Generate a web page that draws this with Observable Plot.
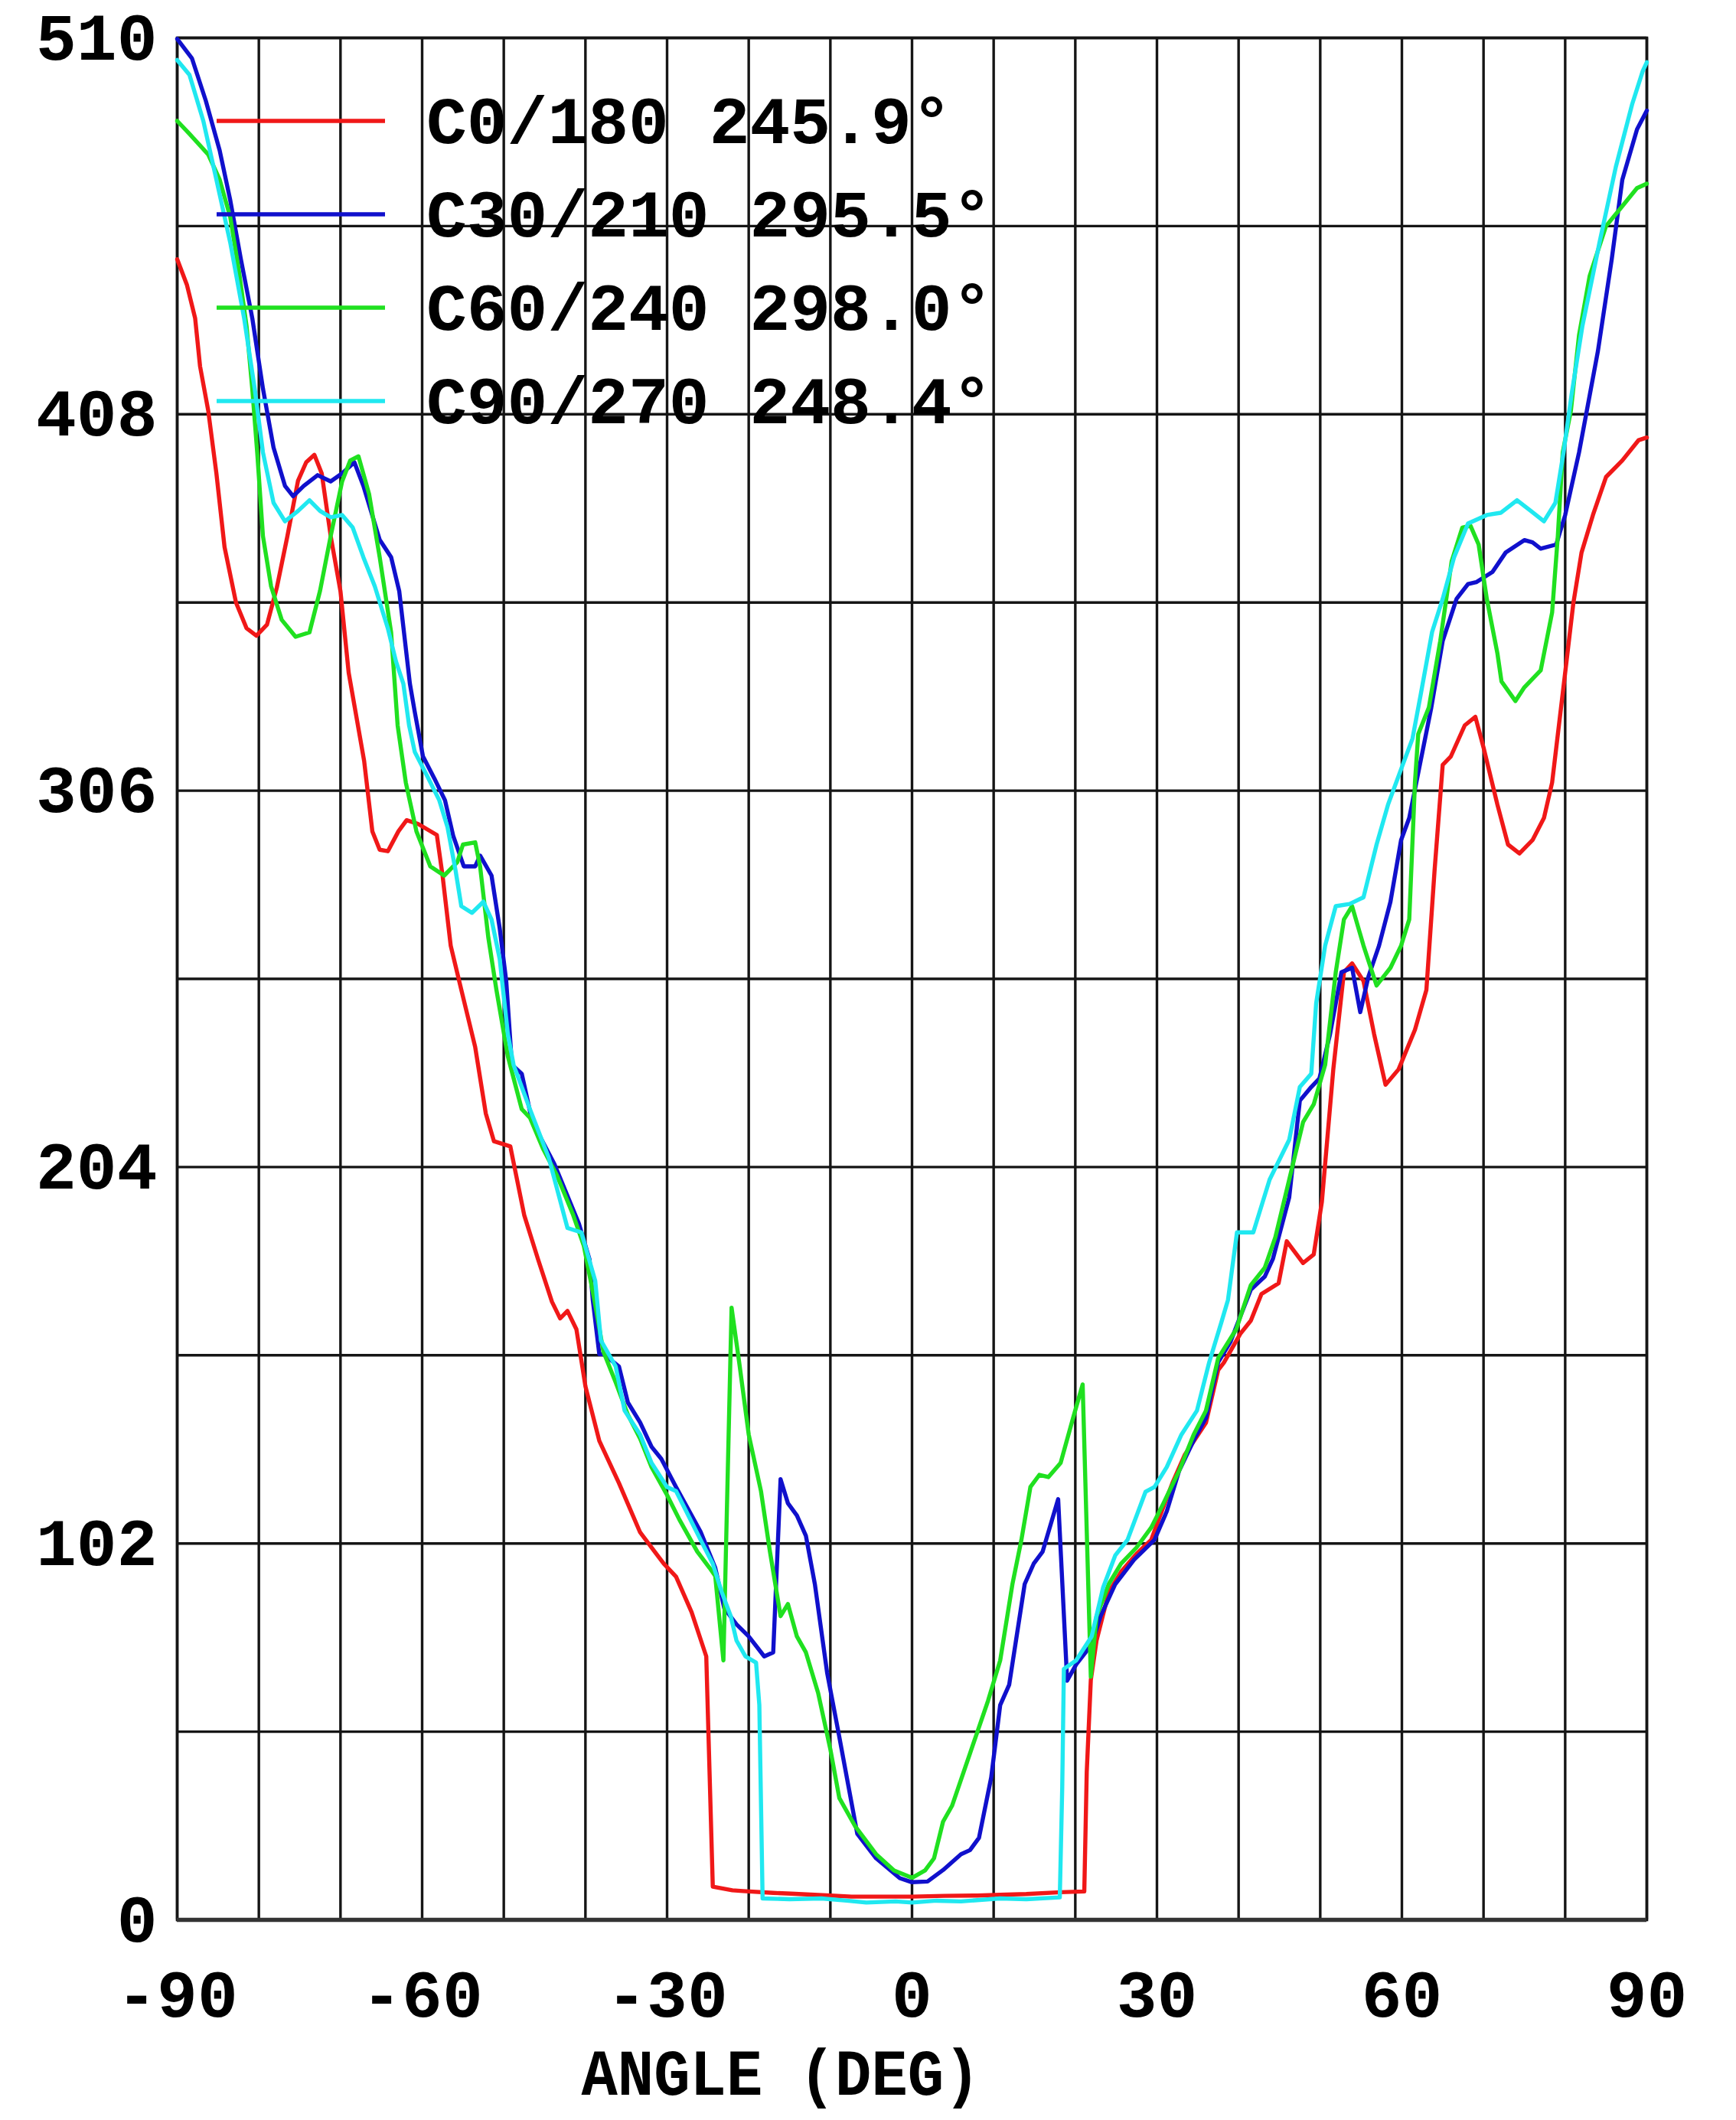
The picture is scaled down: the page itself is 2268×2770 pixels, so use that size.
<!DOCTYPE html>
<html>
<head>
<meta charset="utf-8">
<script src="https://cdn.jsdelivr.net/npm/d3@7"></script>
<script src="https://cdn.jsdelivr.net/npm/@observablehq/plot@0.6"></script>
<style>
html, body { margin: 0; padding: 0; background: #fff; }
#chart svg { display: block; }
</style>
</head>
<body>
<div id="chart"></div>
<script>
// ---- Series (angle in degrees, intensity) ----
const seriesNames = ["C0/180", "C30/210", "C60/240", "C90/270"];
const legendLabels = ["C0/180 245.9°", "C30/210 295.5°", "C60/240 298.0°", "C90/270 248.4°"];
const seriesColors = ["#f01818", "#1010cc", "#20e020", "#20e8f0"];

const c0_180 = [[-90,450],[-88.8,443],[-87.8,434],[-87.2,421],[-86.2,409],[-85.2,392],[-84.2,372],[-82.8,357],[-81.5,350],[-80.3,348],[-79,351],[-77.8,361],[-76.5,375],[-75.2,390],[-74.2,395],[-73.2,397],[-72.3,392],[-71.2,375],[-70,360],[-69,338],[-67.1,314],[-66.1,295],[-65.2,290],[-64.2,289.6],[-62.9,295],[-61.9,298],[-60.5,297],[-58.2,294],[-57.5,283],[-56.5,264],[-55.2,252],[-53.5,236.5],[-52.2,218.5],[-51.2,211],[-49.2,209.6],[-47.5,191],[-45.8,179],[-44.1,167.5],[-43.1,163],[-42.2,165],[-41.1,160],[-40,144.6],[-38.3,129.8],[-35.9,118.4],[-33.3,105],[-30.4,96.5],[-28.9,93],[-27,83.4],[-25.2,71.4],[-24.4,9],[-22,8],[-20.7,7.8],[-17,7.3],[-14.8,7.1],[-10,6.6],[-7.4,6.3],[-3,6.3],[0,6.3],[4,6.5],[8,6.6],[10.8,6.8],[14,7],[18.2,7.5],[21.1,7.7],[21.4,40],[21.9,65],[22.6,75.7],[24.1,88.8],[25.6,94.3],[27.5,99.2],[29.3,103],[30.4,109.6],[31.9,118.4],[33.4,126],[36,134.7],[37.5,149],[38.2,151],[40.2,158.8],[41.5,162.4],[42.8,169.6],[44.9,172.5],[45.9,183.9],[47.9,178],[49.2,180.3],[50.2,194.6],[51.6,230.5],[52.9,256.8],[53.9,259.2],[55.3,254.4],[56.6,240],[58,226.3],[59.6,230.5],[61.6,241.2],[63,252],[64,284.3],[65,313],[66,315.3],[67.7,323.7],[69,326],[70,317.7],[71.7,302.2],[73,291.4],[74.4,289],[76,292.6],[77.4,298.6],[78.4,308.2],[80,338],[81,356.8],[82,370.5],[83.4,380.7],[85,391],[87,395.5],[89,401],[90,401.7]];

const c30_210 = [[-90,509.7],[-88.2,504.5],[-86.5,493],[-84.8,479.5],[-83.5,466],[-82.2,450],[-80.8,434],[-79.5,415],[-78.2,399],[-76.8,388.6],[-75.8,385.8],[-74.5,388.6],[-72.8,391.5],[-71.2,389.8],[-69.8,392],[-68.3,395],[-67.2,388.6],[-65.2,374],[-63.8,369.3],[-62.8,360],[-61.5,335],[-60.9,327.3],[-59.9,315.3],[-58.5,309.3],[-57.2,303.4],[-56.2,293.8],[-54.9,285.5],[-53.5,285.5],[-52.9,288.4],[-51.5,283],[-50.5,268.7],[-49.7,254.4],[-49,231.7],[-47.8,229.3],[-46.5,216.2],[-43.8,204.8],[-40.8,188.7],[-39.5,179],[-39.1,168],[-38.3,153.3],[-37.8,153.3],[-35.9,150],[-34.8,140.2],[-33.3,134.8],[-31.9,128.2],[-30.7,124.9],[-28.9,117.3],[-25.9,105.2],[-24.1,95.4],[-23,84.5],[-21.5,80.1],[-20,76.8],[-18.1,71.4],[-17,72.5],[-16.1,119.4],[-15.2,112.9],[-14.1,109.6],[-13,104.1],[-11.9,91],[-10.4,67],[-8.9,49.5],[-6.7,23.3],[-4.4,16.7],[-1.5,11.3],[0,10.2],[1.9,10.4],[3.8,13.5],[6,17.8],[7.1,18.9],[8.2,22.2],[9.7,38.6],[10.8,58.2],[11.9,63.7],[13.8,91],[14.9,96.5],[16,99.8],[17.9,114],[19,64.8],[20.1,69.2],[22,74.6],[23.1,82.3],[24.9,91],[27.2,97.6],[29.7,103],[31.2,110.7],[32.7,121.6],[34.6,130.4],[36,136],[37.5,151.1],[39,156.6],[39.8,161.2],[41.5,170.8],[43.2,174.3],[44.2,179.1],[46.2,195.8],[47.5,222],[48.9,225.7],[49.9,228],[51.2,240],[52.6,256.8],[53.9,258],[54.9,246],[55.9,255.6],[57.2,264],[58.6,275.9],[59.9,292.6],[60.9,298.6],[62.3,314.1],[63.6,328.5],[65,346.6],[66.7,358],[68.1,362],[69.1,362.5],[71.1,365.3],[72.7,370.5],[75,373.9],[76,373.3],[77,371.6],[78.9,372.7],[80,380.7],[81.7,397.7],[84,425],[85.7,450],[87,471.6],[88.8,485.2],[90,490.3]];

const c60_240 = [[-90,487.5],[-88.5,484],[-86.2,478.4],[-84.8,471.6],[-83.5,461.4],[-82.5,447.7],[-81.5,431.8],[-80.8,414.8],[-80.2,397.7],[-79.5,375],[-78.5,361.4],[-77.2,352.3],[-75.5,347.7],[-73.8,348.9],[-72.5,360.2],[-71.2,375],[-69.8,389.8],[-68.8,395.5],[-67.8,396.6],[-66.5,386.4],[-65.2,369.3],[-63.8,348.9],[-63,323.7],[-62,308.2],[-60.7,295],[-59,285.5],[-57.3,283],[-55.7,286.6],[-55,291.4],[-53.5,292],[-52.9,285.5],[-51.9,266.3],[-50.9,252],[-49.5,234],[-47.8,219.7],[-46.8,217.4],[-45.2,209],[-43.5,201.8],[-41.5,191],[-40.2,182.7],[-38.9,168],[-37.8,154],[-36.3,145.7],[-34.8,136.9],[-33.3,130.4],[-31.9,122.7],[-30,115.1],[-28.5,108.5],[-26.3,99.8],[-24.8,95.4],[-24.1,93.2],[-23.1,70.3],[-22.1,165.9],[-21.1,150],[-20,131.5],[-18.5,116.2],[-17.4,99.8],[-16.1,82.3],[-15.2,85.6],[-14.1,76.8],[-13,72.5],[-11.5,61.5],[-10,46.2],[-8.9,33],[-7,25.5],[-4.4,17.8],[-2.2,13.4],[0,11.4],[1.6,13.4],[2.7,16.7],[3.8,26.6],[4.9,30.9],[7.1,45.1],[9.3,59.3],[10.8,70.3],[12.3,91],[13.4,103],[14.5,117.3],[15.6,120.6],[16.7,120],[18.2,123.8],[19.7,135.8],[20.9,145.1],[21.9,65.9],[22.6,82.3],[24.1,91],[25.6,96.5],[27.5,100.9],[29.3,106.3],[30.8,112.9],[32.7,121.6],[34.5,131.5],[36,138],[37.5,152.2],[39.7,160],[41.5,172],[43.2,176.7],[44.5,185],[46.2,200.6],[47.9,216.2],[49.2,221],[50.6,231.7],[51.9,256.8],[52.9,271.1],[53.9,274.7],[55.3,264],[56.9,253.2],[58.6,258],[59.9,264],[60.9,271.1],[61.6,308.2],[62,321.3],[63.3,328.5],[64.7,346.6],[66.1,368.2],[67.4,377.3],[68.4,377.8],[69.4,372.7],[70.4,358],[71.7,343.2],[72.2,335.6],[73.9,330.3],[75,334],[77,338.6],[78.4,354.3],[79.1,375],[79.7,397.7],[80.7,409],[81.7,429.5],[83,445.5],[85,459],[86.7,463.6],[88.8,469.3],[90,470.5]];

const c90_270 = [[-90,504],[-88.5,500],[-86.8,487.5],[-85.2,471.6],[-83.5,454.5],[-81.8,434],[-80.5,414.8],[-79.5,397.7],[-78.2,384],[-76.8,379],[-75.2,381.8],[-73.8,384.7],[-72.5,381.8],[-71.2,380.1],[-69.8,380.7],[-68.5,377.3],[-67.2,369.3],[-65.8,361.4],[-64.2,350],[-63.2,341],[-62.3,335],[-61.6,323.7],[-60.9,316.5],[-59.5,310.5],[-57.9,303.4],[-56.9,296.2],[-55.9,284.3],[-55.2,274.7],[-53.9,272.9],[-52.5,275.9],[-51.5,271.1],[-50.5,260.4],[-49.5,240],[-48.8,231.7],[-46.8,219.7],[-44.5,206.6],[-42.2,187.5],[-40.5,186.3],[-38.8,173.2],[-38.1,157],[-36.3,150],[-35.2,138],[-33.3,131.5],[-31.9,123.8],[-30,117.3],[-28.9,116.2],[-27.4,109.6],[-25.9,103],[-24.4,96.5],[-23.3,88.8],[-22.2,82.3],[-21.5,75.7],[-20.4,71.4],[-19.1,69.7],[-18.7,58.2],[-18.3,5.8],[-15,5.6],[-11.1,5.8],[-8,5.2],[-5.6,4.7],[-2,5],[0,4.7],[3,5.2],[6,5],[10.8,5.8],[14,5.6],[18.1,6.1],[18.4,36],[18.6,68],[20.1,70.3],[22,76.8],[23.4,90],[24.9,98.8],[26.4,103],[28.6,116],[29.7,117.3],[31.2,122.7],[33,131.5],[34.9,138],[36.4,151.1],[37.9,162],[38.7,168],[39.8,186.3],[41.8,186.3],[43.8,200.6],[46.2,211.4],[47.5,225.7],[48.9,229.3],[49.5,248.4],[50.6,264],[51.9,274.7],[53.6,275.3],[55.3,277.1],[56.9,291.4],[58.3,302.2],[59.9,311.8],[61.3,320.1],[62.3,332],[63.7,349],[65,358],[66.4,369.3],[68.1,378.4],[70.4,380.7],[72.1,381.3],[74.1,384.7],[75.8,381.8],[77.4,379],[78.8,384],[79.8,397.7],[80.8,413.6],[82.1,431.8],[84.2,454.5],[86.2,475],[88.2,492],[89.5,501],[90,503.4]];

// ---- Axes ----
const xTickLabels = [-90, -60, -30, 0, 30, 60, 90];
const xGridLines = [-90, -80, -70, -60, -50, -40, -30, -20, -10, 0, 10, 20, 30, 40, 50, 60, 70, 80, 90];
const yTickLabels = [0, 102, 204, 306, 408, 510];
const yGridLines = [0, 51, 102, 153, 204, 255, 306, 357, 408, 459, 510];
const xTitle = "ANGLE (DEG)";

// ---- Build table ----
const allSeries = [c0_180, c30_210, c60_240, c90_270];
const rows = [];
allSeries.forEach((pts, i) => {
  pts.forEach(([a, v]) => rows.push({series: seriesNames[i], angle: a, value: v}));
});

const W = 2268, H = 2770;
const mLeft = 231, mRight = 117, mTop = 49, mBottom = 262;
const FONT = "'Liberation Mono', 'DejaVu Sans Mono', monospace";
const gridColor = "#151515";
const curveWidth = 5.4;

const chart = Plot.plot({
  width: W,
  height: H,
  marginLeft: mLeft,
  marginRight: mRight,
  marginTop: mTop,
  marginBottom: mBottom,
  style: {fontFamily: FONT, background: "#fff", color: "#000", overflow: "visible"},
  x: {domain: [-90, 90]},
  y: {domain: [0, 510]},
  color: {domain: seriesNames, range: seriesColors},
  marks: [
    Plot.gridX(xGridLines, {stroke: gridColor, strokeOpacity: 1, strokeWidth: 3.4}),
    Plot.gridY(yGridLines, {stroke: gridColor, strokeOpacity: 1, strokeWidth: 3.4}),
    Plot.frame({stroke: gridColor, strokeWidth: 3.6}),
    Plot.ruleY([0], {stroke: "#333", strokeWidth: 5.5}),
    Plot.axisX(xTickLabels, {tickSize: 0, tickPadding: 64, label: null, fontSize: 88, fontWeight: "bold", tickFormat: d => String(d)}),
    Plot.axisY(yTickLabels, {tickSize: 0, tickPadding: 26, label: null, fontSize: 88, fontWeight: "bold", tickFormat: d => String(d)}),
    Plot.line(rows, {x: "angle", y: "value", z: "series", stroke: "series", strokeWidth: curveWidth, strokeLinejoin: "round", curve: "linear"})
  ]
});

document.getElementById("chart").appendChild(chart);

// ---- Legend (inside the frame, top-left) and axis title ----
const svg = d3.select(chart);
const lg = svg.append("g")
  .attr("font-family", FONT)
  .attr("font-weight", "bold")
  .attr("font-size", 88)
  .attr("text-anchor", "start")
  .attr("fill", "#000");
const legX1 = 283, legX2 = 503, legY0 = 158, legDy = 122, legTextX = 557;
legendLabels.forEach((lab, i) => {
  const y = legY0 + i * legDy;
  lg.append("line")
    .attr("x1", legX1).attr("x2", legX2)
    .attr("y1", y).attr("y2", y)
    .attr("stroke", seriesColors[i]).attr("stroke-width", curveWidth);
  lg.append("text")
    .attr("x", legTextX).attr("y", y + 6)
    .attr("text-anchor", "start")
    .attr("dominant-baseline", "middle")
    .text(lab);
});

svg.append("text")
  .attr("x", 1020).attr("y", 2737)
  .attr("text-anchor", "middle")
  .attr("font-family", FONT)
  .attr("font-weight", "bold")
  .attr("font-size", 86)
  .attr("textLength", 521)
  .attr("lengthAdjust", "spacingAndGlyphs")
  .attr("fill", "#000")
  .text(xTitle);
</script>
</body>
</html>
